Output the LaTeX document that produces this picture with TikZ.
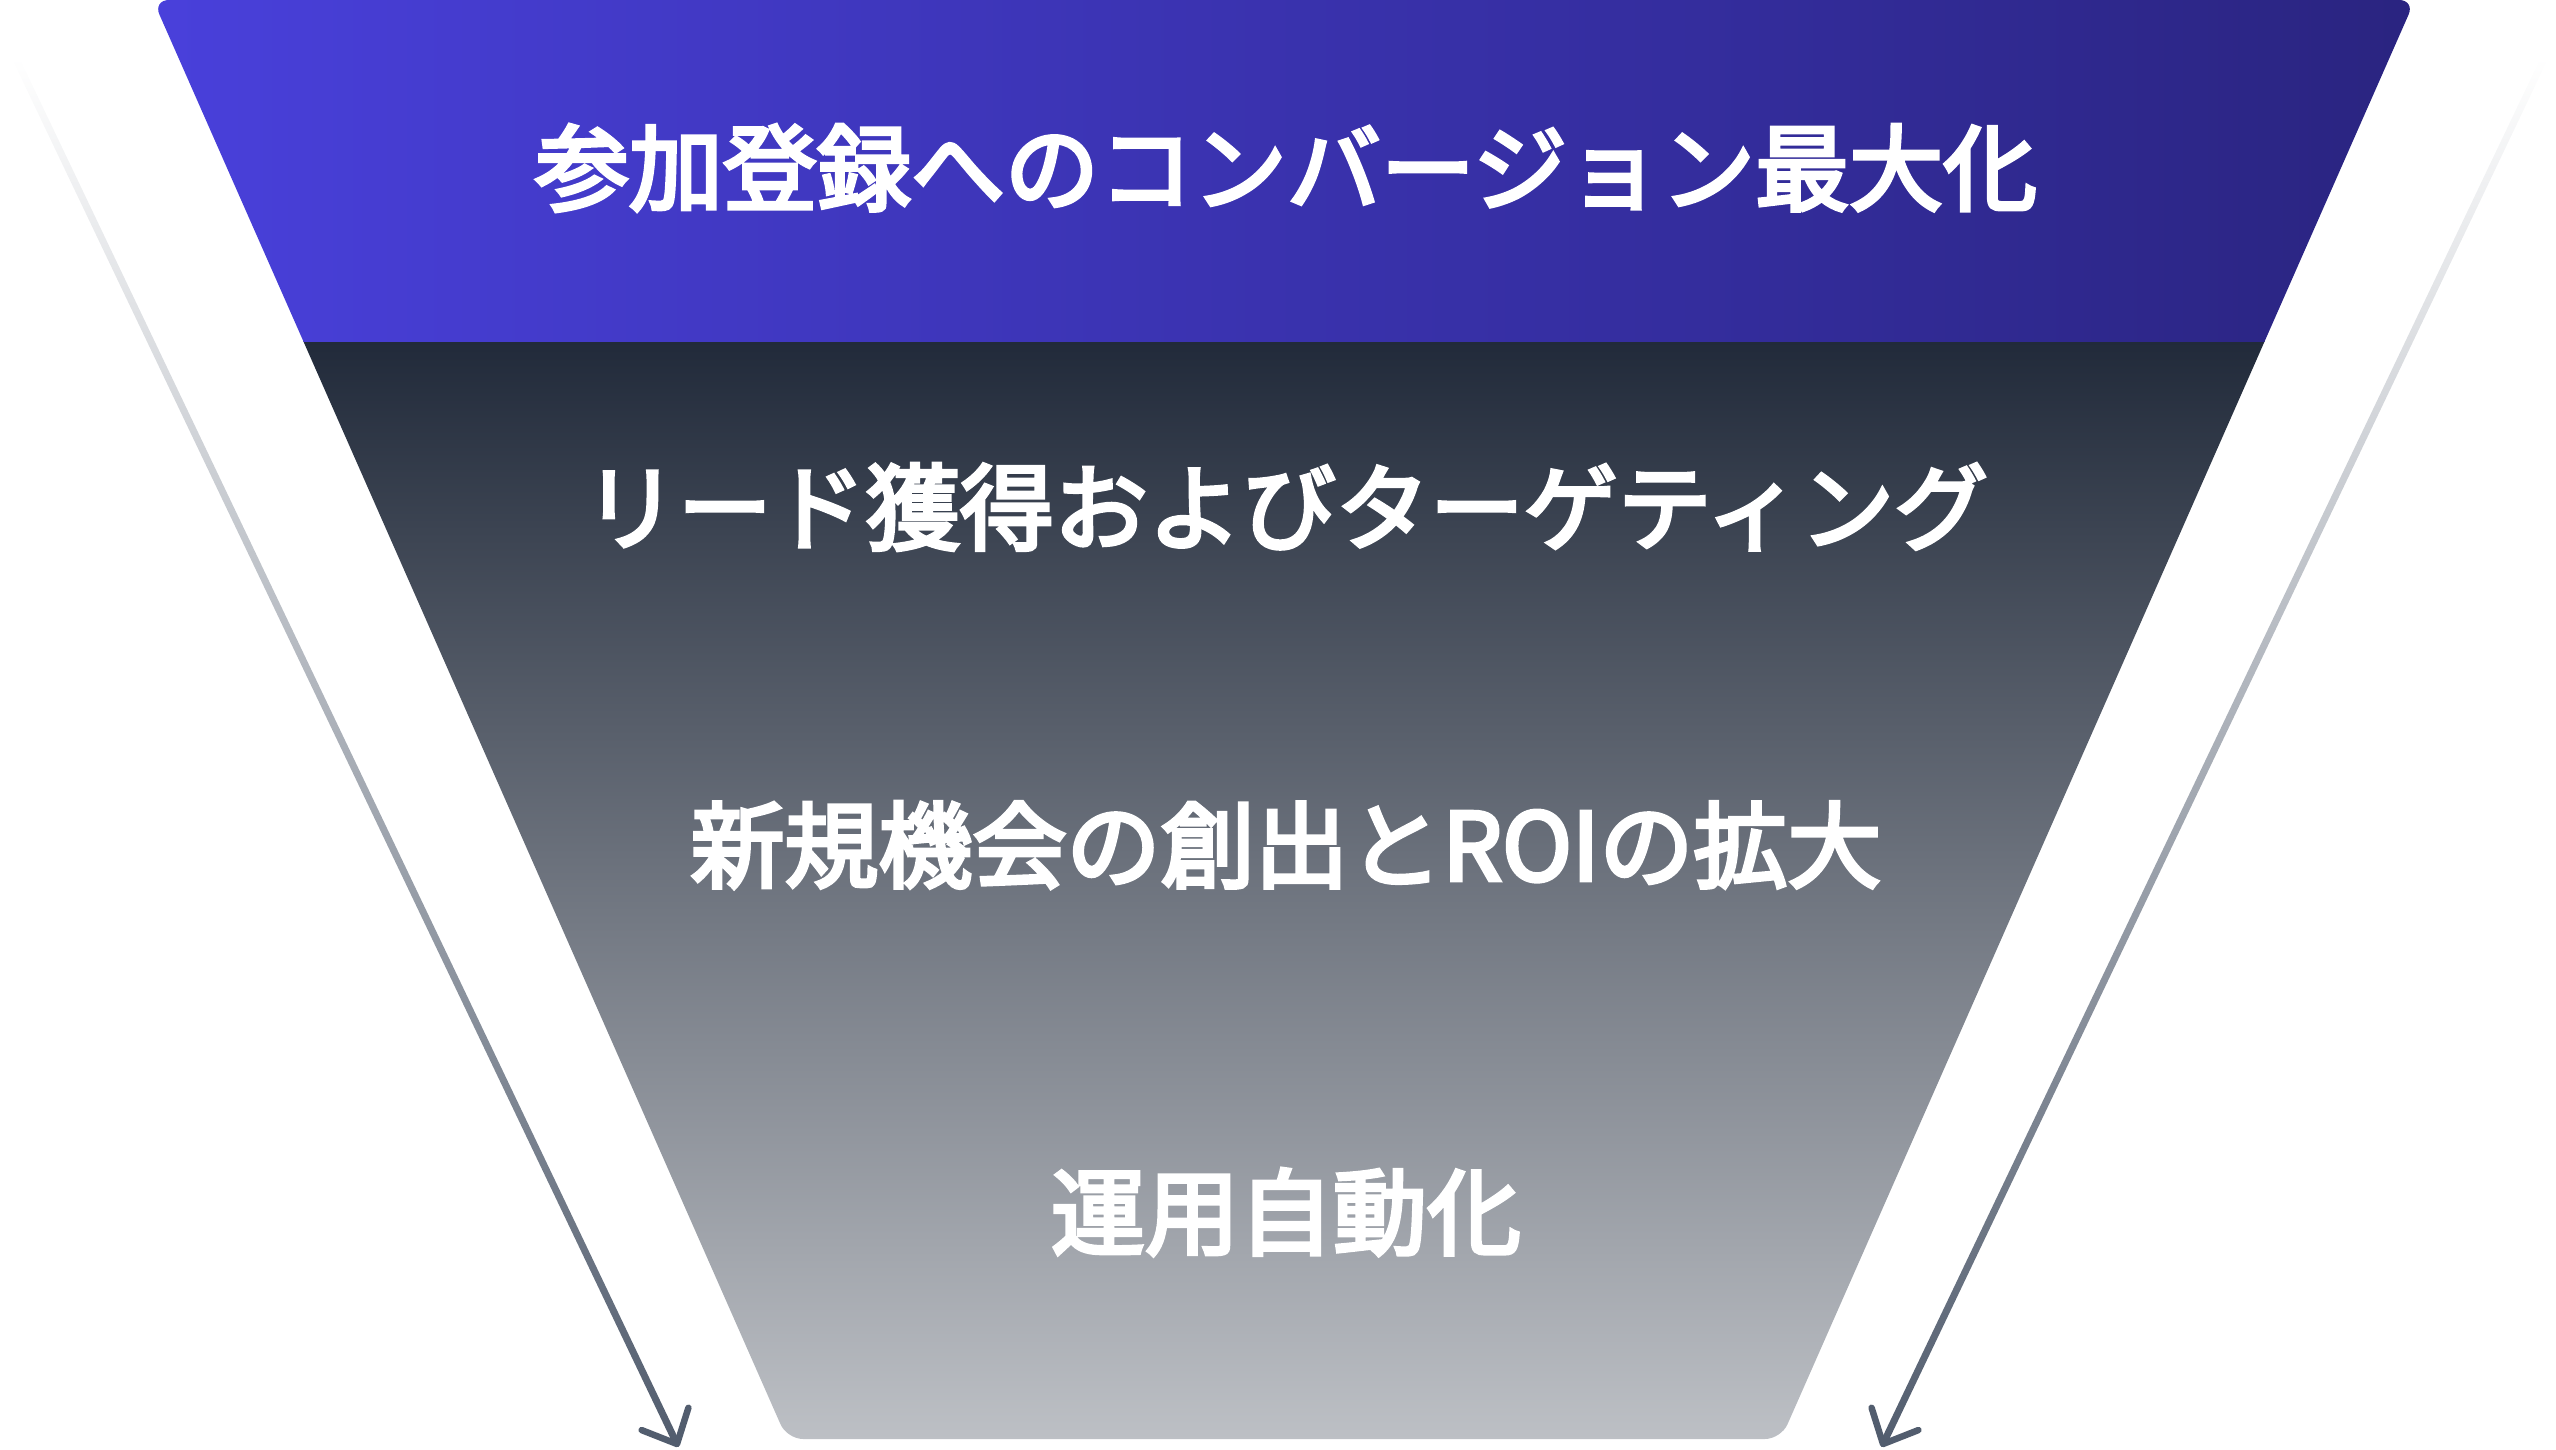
\documentclass[tikz,border=0pt]{standalone}
\usepackage{fontspec}
\newfontfamily\jp{Noto Sans CJK JP}[FakeBold=4]
\usetikzlibrary{calc}
\definecolor{blueL}{HTML}{4940DB}
\definecolor{blueR}{HTML}{2A2480}
\definecolor{darkT}{HTML}{212A3A}
\definecolor{darkB}{HTML}{BDC0C5}
\definecolor{arrowc}{HTML}{525D6E}
\tikzset{
  lbl/.style={text=white, font=\jp\fontsize{94}{100}\selectfont, inner sep=0pt, anchor=center},
  arrowhead/.style={draw=arrowc, line width=6.5pt, line cap=round, line join=round},
}
\begin{document}
\begin{tikzpicture}[x=1pt,y=-1pt]
\useasboundingbox (0,0) rectangle (2556,1450);
% funnel corners
\coordinate (TL) at (153,0);
\coordinate (TR) at (2415,0);
\coordinate (BR) at (1781,1439);
\coordinate (BL) at (787,1439);
\begin{scope}
  \clip[rounded corners=16pt] (TL) -- (TR) -- (BR) -- (BL) -- cycle;
  \shade[top color=darkT, bottom color=darkB] (150,341) rectangle (2420,1440);
  \shade[left color=blueL, right color=blueR] (150,-1) rectangle (2420,341.5);
\end{scope}
% arrows
\coordinate (la) at (16,59);
\coordinate (lb) at (677,1444);
\coordinate (ra) at (2544,59);
\coordinate (rb) at (1883,1444);
\foreach \s/\e in {la/lb, ra/rb}{
  \shade[top color=white, bottom color=arrowc]
    ($(\s)!3.5pt!90:(\e)$) -- ($(\e)!3.5pt!-90:(\s)$) -- ($(\e)!3.5pt!90:(\s)$) -- ($(\s)!3.5pt!-90:(\e)$) -- cycle;
  \draw[arrowhead] ($(\e)!38pt!43:(\s)$) -- (\e) -- ($(\e)!38pt!-43:(\s)$);
}
% labels
\node[lbl] (t1) at (1286,168) {参加登録へのコンバージョン最大化};
\node[lbl] (t2) at (1286,507) {リード獲得およびターゲティング};
\node[lbl] (t3) at (1286,845) {新規機会の創出とROIの拡大};
\node[lbl] (t4) at (1286,1212) {運用自動化};
\end{tikzpicture}
\end{document}
